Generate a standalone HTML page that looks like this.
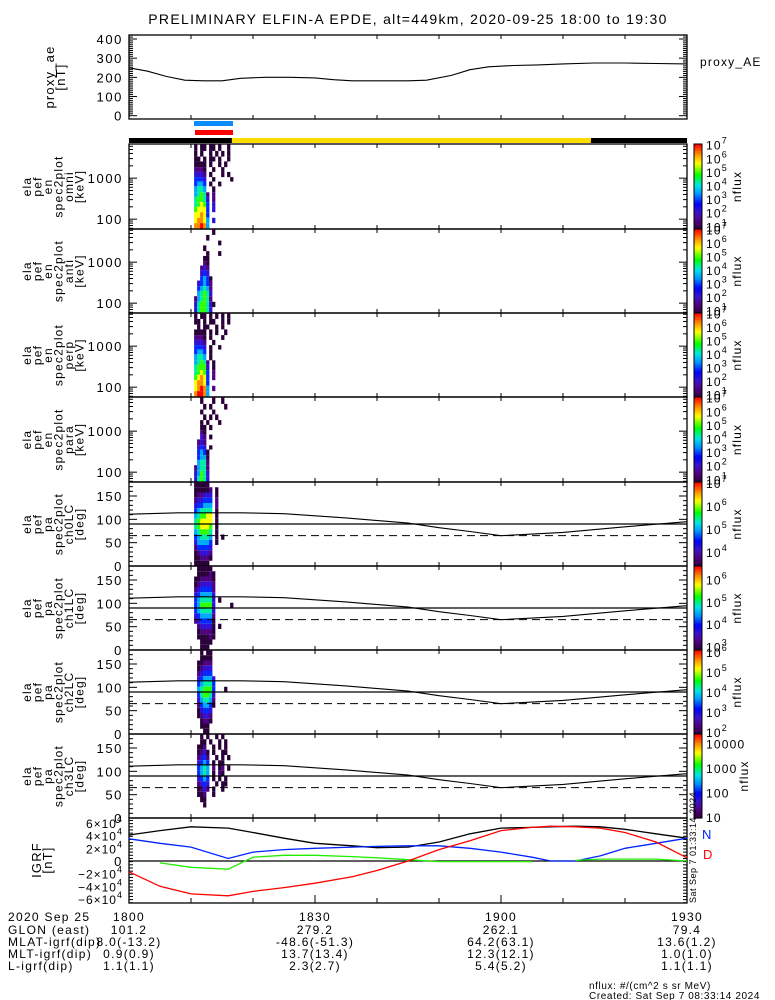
<!DOCTYPE html>
<html><head><meta charset="utf-8"><style>
html,body{margin:0;padding:0;background:#fff;}
svg{display:block;font-family:"Liberation Sans",sans-serif;}
</style></head><body>
<svg id="fig" width="775" height="1000" viewBox="0 0 775 1000" xmlns="http://www.w3.org/2000/svg">
<rect x="0" y="0" width="775" height="1000" fill="#fff"/>
<text x="408" y="24" text-anchor="middle" font-size="14" letter-spacing="1.3">PRELIMINARY ELFIN-A EPDE, alt=449km, 2020-09-25 18:00 to 19:30</text>
<g id="layer"></g>
</svg>
<script>
// ---------- data ----------
const aeTimes = [0,3,6,9,12,15,18,22,26,30,33,36,40,45,48,52,55,58,62,66,70,75,80,85,90];
const aeValues = [250,232,205,185,182,182,195,200,200,197,188,182,182,182,185,210,240,255,262,265,270,275,275,272,270];

const specTimes = [10.5,10.98,11.47,11.95,12.44,12.92,13.4,13.89,14.37,14.86,15.34,15.82,16.31];
const energyEdges = [50,80,108,148,199,260,356,452,630,826,1060,1420,1860,2560,3360,4620,6750];
const paEdges = [0,11.25,22.5,33.75,45,56.25,67.5,78.75,90,101.25,112.5,123.75,135,146.25,157.5,168.75,180];

const omniGrid = ["0.00.00.0..0.","0.0..0.0.0.0.","00.0.00.0..0.","0000.0..0.0..","1110..0..0...","2221.0...0.0.","3332..0.....0","3443.0..0....","4554..0......","45651.1......","56652.1......","56763.2......","67773.2......","77873........","78874.2......","88984........"];
const antGrid = ["......0......","....0........","........0....","...0.........","....0...0....","...00........","...10........","..121........","..232........","..3430.......",".23431.......",".34541.......",".45652.......","145651.......","2566520......","256652......."];
const perpGrid = ["0.00.0.0.0.0.","00.0.00..0.0.",".0.00..0.0...","0000.0.0..0..","1110.0...0...","2221..0......","3332.0..0....","3443.0.......","4554.0.......","45651.0......","56662.0......","56763.1......","67873.1......","78873........","78984.1......","89984........"];
const paraGrid = ["..0...0..0...","...0.0....0..","..0...0......","...0.0.0.....","..0.0...0....","..00.0.......","..10.........","..21.0.......",".121.........",".232.0.......",".3430........",".3440........",".4551........","14551........","24652........","25652........"];

const ch0Grid = ["00000.........","000001.0......","011222.0......","122333.1......","233444.1......","345555.0......","456677.0......","567777.0......","567776.0......","456665.0......","345554.0.0....","244443.0......","133332........","012221........","001110........","00000........."];
const ch1Grid = [".00000........",".000010.......","0011110.......","0122221.......","1233331.......","2344442.......","3455552.0.....","3466662.....0.","3455552.......","2344441.......","1233330.......",".122220.0.....",".011110.......",".000010.......","..0000........","..000........."];
const ch2Grid = ["..0.00........","..0000........",".00111........",".01222........",".12333........",".234442.......",".345553.......",".456663...0...",".356652.......",".245541.......",".134430.......",".02332........",".01221........","..0110........","..000.........","...00........."];
const ch3Grid = ["..0.0..0.0...","..00.0..0.0..",".001..0.0.0..",".0120.0..00..",".1231..0.0.0.",".2343.0.00...",".3454.1.01.0.",".3454.0.10...",".2343.0.0.0..",".1232..0.00..",".0121.0..0...",".001..0......","..00.........","...0.........",".............","............."];

const lcTimes = [0,8,18,25,35,45,50,55,60,70,80,90];
const lcDeg = [111,114,114,112,103,92,82,74,65,72,84,95];
const dashDeg = 65;

const igrfTimes = [0,5,10,16,20,25,30,36,40,45,50,55,60,65,68,72,76,80,85,90];
const igrfTotal = [41000,48000,54000,52000,45000,36000,28000,24000,21000,22000,30000,43000,52000,53000,54000,55000,54000,50000,43000,36000];
const igrfN = [35000,28000,22000,4000,14000,18000,20000,22000,23000,24000,24000,20000,14000,6000,0,0,8000,20000,28000,36000];
const igrfE = [null,-3000,-10000,-13000,6000,9000,9000,7000,5000,2000,-1000,-1000,-1000,-1000,null,1000,3000,3000,3000,0];
const igrfD = [-17000,-40000,-52000,-55000,-48000,-42000,-35000,-25000,-15000,0,18000,32000,48000,53000,55000,54000,52000,45000,30000,5000];

const bottomRows = ["2020 Sep 25","GLON (east)","MLAT-igrf(dip)","MLT-igrf(dip)","L-igrf(dip)"];
const bottomTickLabels = ["1800","1830","1900","1930"];
const bottomVals = [["1800","101.2","8.0(-13.2)","0.9(0.9)","1.1(1.1)"],["1830","279.2","-48.6(-51.3)","13.7(13.4)","2.3(2.7)"],["1900","262.1","64.2(63.1)","12.3(12.1)","5.4(5.2)"],["1930","79.4","13.6(1.2)","1.0(1.0)","1.1(1.1)"]];

// ---------- layout ----------
const X0 = 129, X1 = 687, PXMIN = (X1 - X0) / 90;
const xOf = m => X0 + m * PXMIN;
const NS = "http://www.w3.org/2000/svg";
const layer = document.getElementById('layer');
function mk(tag, attrs, parent) {
  const e = document.createElementNS(NS, tag);
  for (const k in attrs) e.setAttribute(k, attrs[k]);
  (parent || layer).appendChild(e);
  return e;
}
const stops = [[0,[42,0,56]],[0.1,[80,0,122]],[0.2,[60,20,200]],[0.3,[0,0,255]],[0.42,[0,150,255]],[0.52,[0,230,230]],[0.64,[0,255,0]],[0.78,[255,255,0]],[0.88,[255,150,0]],[1,[255,0,0]]];
function cmap(f) {
  f = Math.max(0, Math.min(1, f));
  for (let i = 1; i < stops.length; i++) {
    if (f <= stops[i][0]) {
      const a = stops[i-1], b = stops[i], t = (f - a[0]) / (b[0] - a[0]);
      const c = a[1].map((v, j) => Math.round(v + (b[1][j] - v) * t));
      return `rgb(${c[0]},${c[1]},${c[2]})`;
    }
  }
  return 'rgb(255,0,0)';
}
function line(x1,y1,x2,y2,parent,extra){ return mk('line',Object.assign({x1,y1,x2,y2,stroke:'#000','stroke-width':1},extra||{}),parent); }
function tlabel(txt,x,y,parent,anchor,size,ls){ const t=mk('text',{x,y,'text-anchor':anchor||'end','font-size':size||13,'letter-spacing':ls===undefined?1.6:ls},parent); t.textContent=txt; return t; }

function frame(top, bot, name) {
  const g = mk('g', {});
  
  
  mk('rect', {x:X0, y:top, width:X1-X0, height:bot-top, fill:'none', stroke:'#000', 'stroke-width':1.3}, g);
  for (let m = 10; m < 90; m += 10) {
    line(xOf(m), bot, xOf(m), bot-4, g);
    line(xOf(m), top, xOf(m), top+4, g);
  }
  return g;
}
function rotLabel(lines, yc, parent, xs, fs) {
  lines.forEach((s, i) => {
    const t = mk('text', {transform:`translate(${xs[i]},${yc}) rotate(-90)`, 'text-anchor':'middle', 'font-size':fs||12, 'letter-spacing':1.2}, parent);
    t.textContent = s;
  });
}
function colorbar(top, bot, lo, hi, labels, plain, name) {
  const g = mk('g', {});
  
  
  const n = 40, h = (bot - top) / n;
  for (let i = 0; i < n; i++) mk('rect', {x:694, y:bot-(i+1)*h, width:8, height:h+0.6, fill:cmap((i+0.5)/n)}, g);
  mk('rect', {x:694, y:top, width:8, height:bot-top, fill:'none', stroke:'#000', 'stroke-width':1}, g);
  labels.forEach(p => {
    const y = bot - (p - lo) / (hi - lo) * (bot - top) + 5;
    if (plain) { tlabel(String(Math.pow(10,p)), 706, y, g, 'start', 12, 1.2); }
    else {
      const t = mk('text', {x:706, y:y, 'font-size':12, 'letter-spacing':1.2}, g);
      t.textContent = '10';
      const s = mk('tspan', {dy:-6, 'font-size':9}, t);
      s.textContent = String(p);
    }
  });
  const t = mk('text', {transform:`translate(${plain?748:741},${(top+bot)/2}) rotate(-90)`, 'text-anchor':'middle', 'font-size':12, 'letter-spacing':1.2}, g);
  t.textContent = 'nflux';
}

// ---------- AE panel ----------
(function(){
  const top=35, bot=119;
  const yf = v => 115.7 - v * (115.7-39) / 400;
  const g = frame(top, bot, 'proxy-ae-panel');
  for (let v=0; v<=420; v+=10) { const big = v%100===0; const y=yf(v); line(X0,y,X0+(big?8:4),y,g); line(X1,y,X1-(big?8:4),y,g); }
  [0,100,200,300,400].forEach(v => tlabel(String(v), 123, yf(v)+5, g));
  const pts = aeTimes.map((t,i)=>`${xOf(t).toFixed(1)},${yf(aeValues[i]).toFixed(1)}`).join(' ');
  const pl = mk('polyline', {points:pts, fill:'none', stroke:'#000', 'stroke-width':1.1}, g);
  
  
  rotLabel(['proxy_ae','[nT]'], 77, g, [54,65], 13);
  const lt = tlabel('proxy_AE', 700, 66, g, 'start', 12, 1.2);
  
  
})();

// ---------- status bars ----------
(function(){
  const g = mk('g', {});
  
  
  mk('rect', {x:194, y:121, width:39, height:5, fill:'#0a8cff'}, g);
  mk('rect', {x:195, y:130, width:38, height:5, fill:'#ff0000'}, g);
  mk('rect', {x:X0, y:138, width:xOf(16.6)-X0, height:5, fill:'#000'}, g);
  mk('rect', {x:xOf(16.6), y:138, width:xOf(74.5)-xOf(16.6), height:5, fill:'#ffdd00'}, g);
  mk('rect', {x:xOf(74.5), y:138, width:X1-xOf(74.5), height:5, fill:'#000'}, g);
})();

// ---------- spectrogram panels ----------
const colW = specTimes[1] - specTimes[0];
function specPanel(top, bot, grid, name, label) {
  const g = frame(top, bot, name);
  const yf = e => bot - (Math.log10(e) - 1.76) * 41;
  const ticks=[]; [10,100,1000].forEach(d=>{for(let k=1;k<10;k++){const v=d*k; if(v>=60&&v<=6700) ticks.push(v);}});
  ticks.forEach(v => { const big=(v===100||v===1000); const y=yf(v); line(X0,y,X0+(big?8:4),y,g); line(X1,y,X1-(big?8:4),y,g); });
  tlabel('100', 123, yf(100)+5, g); tlabel('1000', 123, yf(1000)+5, g);
  const cells = mk('g', {}, g);
  
  
  grid.forEach((row, r) => {
    const e1 = energyEdges[16-r], e0 = energyEdges[15-r];
    for (let c = 0; c < row.length; c++) {
      const ch = row[c]; if (ch === '.') continue;
      const y1 = Math.max(top, yf(e1)), y0 = Math.min(bot, yf(e0));
      mk('rect', {x:xOf(specTimes[c]), y:y1, width:(colW*PXMIN+0.3).toFixed(2), height:(y0-y1).toFixed(2), fill:cmap(+ch/9)}, cells);
    }
  });
  rotLabel(['ela','pef','en','spec2plot',label,'[keV]'], (top+bot)/2, g, [31,41.5,52,62.5,73,83.5]);
}
specPanel(144, 229, omniGrid, 'spec-omni-panel', 'omni');
specPanel(229, 313, antGrid, 'spec-anti-panel', 'anti');
specPanel(313, 397, perpGrid, 'spec-perp-panel', 'perp');
specPanel(397, 482, paraGrid, 'spec-para-panel', 'para');
colorbar(144, 229, 0.8, 7.05, [7,6,5,4,3,2,1], false, 'colorbar-omni');
colorbar(229, 313, 0.8, 7.05, [7,6,5,4,3,2,1], false, 'colorbar-anti');
colorbar(313, 397, 0.8, 7.05, [7,6,5,4,3,2,1], false, 'colorbar-perp');
colorbar(397, 482, 0.8, 7.05, [7,6,5,4,3,2,1], false, 'colorbar-para');

// ---------- pitch angle panels ----------
function paPanel(top, bot, grid, name, label) {
  const g = frame(top, bot, name);
  const yf = d => bot - d * (bot-top) / 180;
  for (let v=0; v<=180; v+=10) { const big=v%50===0; const y=yf(v); line(X0,y,X0+(big?8:4),y,g); line(X1,y,X1-(big?8:4),y,g); }
  [0,50,100,150].forEach(v => tlabel(String(v), 123, yf(v)+5, g));
  const cells = mk('g', {}, g);
  
  
  grid.forEach((row, r) => {
    const d1 = paEdges[16-r], d0 = paEdges[15-r];
    for (let c = 0; c < row.length; c++) {
      const ch = row[c]; if (ch === '.') continue;
      mk('rect', {x:xOf(specTimes[c]), y:yf(d1), width:(colW*PXMIN+0.3).toFixed(2), height:(yf(d0)-yf(d1)).toFixed(2), fill:cmap(+ch/9)}, cells);
    }
  });
  const l90 = line(X0, yf(90), X1, yf(90), g, {'stroke-width':1.3});
  
  
  const lc = mk('polyline', {points:lcTimes.map((t,i)=>`${xOf(t).toFixed(1)},${yf(lcDeg[i]).toFixed(1)}`).join(' '), fill:'none', stroke:'#000', 'stroke-width':1.1}, g);
  
  
  const dl = line(X0, yf(dashDeg), X1, yf(dashDeg), g, {'stroke-dasharray':'8,5'});
  
  
  rotLabel(['ela','pef','pa','spec2plot',label,'[deg]'], (top+bot)/2, g, [31,41.5,52,62.5,73,83.5]);
}
paPanel(482, 566, ch0Grid, 'pa-ch0-panel', 'ch0LC');
paPanel(566, 650, ch1Grid, 'pa-ch1-panel', 'ch1LC');
paPanel(650, 734, ch2Grid, 'pa-ch2-panel', 'ch2LC');
paPanel(734, 818, ch3Grid, 'pa-ch3-panel', 'ch3LC');
colorbar(482, 566, 3.4, 7.05, [7,6,5,4], false, 'colorbar-ch0');
colorbar(566, 650, 2.85, 6.6, [6,5,4,3], false, 'colorbar-ch1');
colorbar(650, 734, 1.9, 6.1, [6,5,4,3,2], false, 'colorbar-ch2');
colorbar(734, 818, 0.95, 4.4, [4,3,2,1], true, 'colorbar-ch3');

// ---------- IGRF panel ----------
(function(){
  const top=818, bot=903;
  const yf = v => 861 - v * 38 / 60000;
  const g = frame(top, bot, 'igrf-panel');
  for (let v=-66000; v<=66000; v+=5000) { const y=yf(v); if(y<top||y>bot) continue; const big=v%20000===0; line(X0,y,X0+(big?8:4),y,g); line(X1,y,X1-(big?8:4),y,g); }
  [6,4,2,-2,-4,-6].forEach(k => {
    const t = mk('text', {x:123, y:yf(k*10000)+5, 'text-anchor':'end', 'font-size':12, 'letter-spacing':1}, g);
    t.textContent = (k<0?'\u2212':'') + Math.abs(k) + '\u00d710';
    const s = mk('tspan', {dy:-6, 'font-size':9}, t); s.textContent = '4';
  });
  tlabel('0', 123, yf(0)+5, g);
  line(X0, yf(0), X1, yf(0), g, {'stroke-width':1.2});
  function series(vals, color, nm) {
    const segs=[]; let cur=[];
    vals.forEach((v,i)=>{ if(v===null){ if(cur.length) segs.push(cur); cur=[]; } else cur.push(`${xOf(igrfTimes[i]).toFixed(1)},${yf(v).toFixed(1)}`); });
    if (cur.length) segs.push(cur);
    segs.forEach(s => {
      const p = mk('polyline', {points:s.join(' '), fill:'none', stroke:color, 'stroke-width':1.3}, g);
      
      
    });
  }
  series(igrfTotal, '#000', 'igrf-total-line');
  series(igrfN, '#0022ff', 'igrf-n-line');
  series(igrfE, '#22ee00', 'igrf-e-line');
  series(igrfD, '#ff0000', 'igrf-d-line');
  rotLabel(['IGRF','[nT]'], 860, g, [41,52], 13);
  const n = tlabel('N', 702, 839, g, 'start', 13, 0); n.setAttribute('fill','#0022ff');
  const d = tlabel('D', 703, 859, g, 'start', 13, 0); d.setAttribute('fill','#ff0000');
  const ts = mk('text', {transform:'translate(696,903) rotate(-90)', 'font-size':9, 'letter-spacing':0.5}, g);
  ts.textContent = 'Sat Sep  7 01:33:14 2024';
  for (let m=0; m<=90; m+=10) line(xOf(m), bot, xOf(m), bot-(m%30===0?8:5), g);
})();

// ---------- bottom annotation ----------
(function(){
  const g = mk('g', {});
  
  
  const ys = [921, 934, 946, 958, 970];
  bottomRows.forEach((s,i) => tlabel(s, 8, ys[i], g, 'start', 12, 1.3));
  bottomVals.forEach((col, j) => {
    const x = xOf(j*30);
    col.forEach((s, i) => tlabel(s, x, ys[i], g, 'middle', 12, 1.3));
  });
  tlabel('nflux: #/(cm^2 s sr MeV)', 589, 989, g, 'start', 10, 0.6);
  tlabel('Created: Sat Sep  7 08:33:14 2024', 589, 999, g, 'start', 10, 0.6);
})();
</script>
</body></html>
